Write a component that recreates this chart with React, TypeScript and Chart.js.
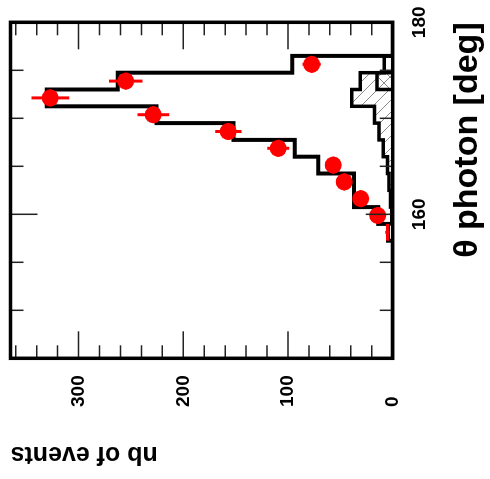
import React, { useEffect, useRef } from 'react';
import { Chart, registerables } from 'chart.js';

Chart.register(...registerables);

// ---- data (ascending theta bins, 1.75 deg wide) ----
const binEdges = [145, 146.75, 148.5, 150.25, 152, 153.75, 155.5, 157.25, 159, 160.75, 162.5, 164.25, 166, 167.75, 169.5, 171.25, 173, 174.75, 176.5, 178.25, 180];
const mcTotal = [0, 0, 0, 0, 0, 0, 0, 4.5, 13.8, 37, 37, 71, 93.5, 152, 225.5, 330.5, 262.5, 96, 0, 0];
const bkgTotal = [0, 0, 0, 0, 0, 0, 0, 0, 1, 2, 3.5, 5, 9, 13, 17.5, 39, 31, 8, 0, 0];
const bkgHatchA = [0, 0, 0, 0, 0, 0, 0, 0, 1, 2, 3.5, 5, 9, 13, 17.5, 39, 31, 0, 0, 0];
const bkgHatchB = [0, 0, 0, 0, 0, 0, 0, 0, 0, 0, 0, 0, 0, 0, 0, 0, 15, 0, 0, 0];
const dataCounts = [null, null, null, null, null, null, null, 5, 14.3, 30.6, 46.2, 56.8, 109.3, 157, 228.6, 327, 255, 77.4, null, null];
const dataErrors = [null, null, null, null, null, null, null, 2.2, 3.8, 5.5, 6.8, 7.5, 10.5, 12.5, 15.1, 18, 16, 8.8, null, null];
const markerVisible = [false, false, false, false, false, false, false, false, true, true, true, true, true, true, true, true, true, true, false, false];

const xTickLabels = [160, 180];
const yTickLabels = [0, 100, 200, 300];
const xMajorTicks = [160, 180];
const xMinorTicks = [150, 155, 165, 170, 175];
const yMajorTicks = [100, 200, 300];
const yMinorTicks = [20, 40, 60, 80, 120, 140, 160, 180, 220, 240, 260, 280, 320, 340, 360];

const X_MIN = 145;
const X_MAX = 180;
const Y_MAX = 365;

const FAMILY = "'Liberation Sans', Arial, Helvetica, sans-serif";

function histPoints(values: number[]) {
  const pts: { x: number; y: number }[] = [{ x: binEdges[0], y: 0 }];
  values.forEach((v, i) => pts.push({ x: binEdges[i], y: v }));
  const last = binEdges[binEdges.length - 1];
  pts.push({ x: last, y: values[values.length - 1] });
  pts.push({ x: last, y: 0 });
  return pts;
}

function makeHatch(dir: number) {
  const s = 12;
  const c = document.createElement('canvas');
  c.width = s;
  c.height = s;
  const g = c.getContext('2d')!;
  g.strokeStyle = '#8c8c8c';
  g.lineWidth = 1;
  g.beginPath();
  if (dir === 1) {
    g.moveTo(0, 0); g.lineTo(s, s);
    g.moveTo(-2, s - 2); g.lineTo(2, s + 2);
    g.moveTo(s - 2, -2); g.lineTo(s + 2, 2);
  } else {
    g.moveTo(0, s); g.lineTo(s, 0);
    g.moveTo(-2, 2); g.lineTo(2, -2);
    g.moveTo(s - 2, s + 2); g.lineTo(s + 2, s - 2);
  }
  g.stroke();
  return g.createPattern(c, 'repeat');
}

const errorBarPlugin = {
  id: 'rootErrorBars',
  afterDatasetsDraw(chart: any) {
    const { ctx, chartArea } = chart;
    const xs = chart.scales.x;
    const ys = chart.scales.y;
    ctx.save();
    ctx.beginPath();
    ctx.rect(chartArea.left, chartArea.top, chartArea.right - chartArea.left, chartArea.bottom - chartArea.top);
    ctx.clip();
    ctx.strokeStyle = '#ff0000';
    ctx.lineWidth = 3;
    ctx.lineCap = 'butt';
    dataCounts.forEach((v, i) => {
      if (v == null) return;
      const e = dataErrors[i] || 0;
      const cx = xs.getPixelForValue((binEdges[i] + binEdges[i + 1]) / 2);
      const cy = ys.getPixelForValue(v);
      ctx.beginPath();
      ctx.moveTo(cx, ys.getPixelForValue(v - e));
      ctx.lineTo(cx, ys.getPixelForValue(v + e));
      ctx.moveTo(xs.getPixelForValue(binEdges[i]), cy);
      ctx.lineTo(xs.getPixelForValue(binEdges[i + 1]), cy);
      ctx.stroke();
    });
    ctx.restore();
  },
};

const framePlugin = {
  id: 'rootFrame',
  afterDraw(chart: any) {
    const { ctx, chartArea } = chart;
    const xs = chart.scales.x;
    const ys = chart.scales.y;
    const { left, right, top, bottom } = chartArea;
    ctx.save();
    ctx.strokeStyle = '#222';
    ctx.lineWidth = 1.5;
    ctx.beginPath();
    const xt = (vals: number[], len: number) => {
      vals.forEach((v) => {
        const p = xs.getPixelForValue(v);
        ctx.moveTo(p, bottom); ctx.lineTo(p, bottom - len);
        ctx.moveTo(p, top); ctx.lineTo(p, top + len);
      });
    };
    const yt = (vals: number[], len: number) => {
      vals.forEach((v) => {
        const p = ys.getPixelForValue(v);
        ctx.moveTo(left, p); ctx.lineTo(left + len, p);
        ctx.moveTo(right, p); ctx.lineTo(right - len, p);
      });
    };
    xt(xMajorTicks, 27);
    xt(xMinorTicks, 13);
    yt(yMajorTicks, 27);
    yt(yMinorTicks, 13);
    ctx.stroke();
    ctx.strokeStyle = '#000';
    ctx.lineWidth = 3.5;
    ctx.strokeRect(left, top, right - left, bottom - top);
    ctx.restore();
  },
};

export default function App() {
  const ref = useRef<HTMLCanvasElement | null>(null);

  useEffect(() => {
    if (!ref.current) return;
    const hatchA = makeHatch(1);
    const hatchB = makeHatch(-1);

    const scatterData: { x: number; y: number }[] = [];
    const radii: number[] = [];
    dataCounts.forEach((v, i) => {
      if (v == null) return;
      scatterData.push({ x: (binEdges[i] + binEdges[i + 1]) / 2, y: v });
      radii.push(markerVisible[i] ? 8.5 : 0);
    });

    const histStyle = {
      type: 'line' as const,
      stepped: 'before' as const,
      pointRadius: 0,
      tension: 0,
      borderJoinStyle: 'miter' as const,
      borderCapStyle: 'butt' as const,
    };

    const chart = new Chart(ref.current, {
      type: 'line',
      data: {
        datasets: [
          {
            label: 'data',
            type: 'scatter',
            data: scatterData,
            showLine: false,
            pointRadius: radii,
            pointBackgroundColor: '#ff0000',
            pointBorderColor: '#ff0000',
            pointBorderWidth: 0,
            order: 0,
          } as any,
          {
            ...histStyle,
            label: 'MC total',
            data: histPoints(mcTotal),
            borderColor: '#000',
            borderWidth: 4,
            fill: false,
            order: 1,
          },
          {
            ...histStyle,
            label: 'bkg B',
            data: histPoints(bkgHatchB),
            borderColor: '#000',
            borderWidth: 3.5,
            backgroundColor: hatchB as any,
            fill: 'origin',
            order: 2,
          },
          {
            ...histStyle,
            label: 'bkg total',
            data: histPoints(bkgTotal),
            borderColor: '#000',
            borderWidth: 3.5,
            fill: false,
            order: 3,
          },
          {
            ...histStyle,
            label: 'bkg A',
            data: histPoints(bkgHatchA),
            borderColor: 'rgba(0,0,0,0)',
            borderWidth: 0,
            backgroundColor: hatchA as any,
            fill: 'origin',
            order: 4,
          },
        ],
      },
      options: {
        animation: false,
        responsive: false,
        layout: { padding: { left: 0, right: 22.3, top: 10.5, bottom: 0 } },
        plugins: {
          legend: { display: false },
          tooltip: { enabled: false },
        },
        scales: {
          x: {
            type: 'linear',
            position: 'bottom',
            min: X_MIN,
            max: X_MAX,
            grid: { display: false, drawTicks: true, tickLength: 18 },
            border: { display: false },
            afterBuildTicks: (s: any) => {
              s.ticks = xTickLabels.map((v) => ({ value: v }));
            },
            afterFit: (s: any) => {
              s.height = 97.3;
            },
            ticks: {
              color: '#000',
              padding: 0,
              maxRotation: 0,
              autoSkip: false,
              font: { family: FAMILY, size: 19, weight: 'bold', lineHeight: 1 },
            },
            title: {
              display: true,
              text: 'θ photon [deg]',
              align: 'end',
              color: '#000',
              font: { family: FAMILY, size: 34, weight: 'bold', lineHeight: 1.2 },
              padding: { top: 0, bottom: 2.4 },
            },
          },
          y: {
            type: 'linear',
            position: 'left',
            weight: 0,
            min: 0,
            max: Y_MAX,
            grid: { display: false, drawTicks: false },
            border: { display: false },
            afterBuildTicks: (s: any) => {
              s.ticks = yTickLabels.map((v) => ({ value: v }));
            },
            afterFit: (s: any) => {
              s.width = 48.7;
            },
            ticks: {
              color: '#000',
              padding: 0,
              crossAlign: 'far',
              autoSkip: false,
              font: { family: FAMILY, size: 19, weight: 'bold', lineHeight: 1 },
            },
            title: { display: false },
          },
          yTitle: {
            type: 'linear',
            position: 'left',
            weight: 1,
            min: 0,
            max: Y_MAX,
            grid: { display: false, drawTicks: false },
            border: { display: false },
            ticks: { display: false },
            afterFit: (s: any) => {
              s.width = 72;
            },
            title: {
              display: true,
              text: 'nb of events',
              align: 'end',
              color: '#000',
              font: { family: FAMILY, size: 25, weight: 'bold', lineHeight: 1.2 },
              padding: { top: 10.3, bottom: 0 },
            },
          },
        },
      } as any,
      plugins: [errorBarPlugin, framePlugin],
    });

    return () => chart.destroy();
  }, []);

  return (
    <div style={{ position: 'fixed', left: 0, top: 0, width: 490, height: 479, overflow: 'hidden', background: '#fff' }}>
      <div
        style={{
          position: 'absolute',
          left: 0,
          top: 0,
          width: 479,
          height: 490,
          transformOrigin: '0 0',
          transform: 'translate(0px, 479px) rotate(-90deg)',
        }}
      >
        <canvas ref={ref} width={479} height={490} style={{ display: 'block' }} />
      </div>
    </div>
  );
}
